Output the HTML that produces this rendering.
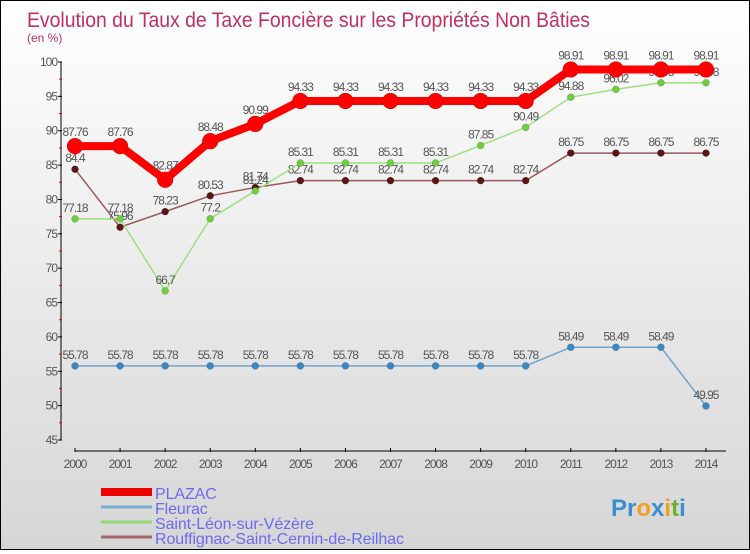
<!DOCTYPE html>
<html><head><meta charset="utf-8">
<style>
html,body{margin:0;padding:0}
body{width:750px;height:550px;overflow:hidden;font-family:"Liberation Sans",sans-serif}
#wrap{position:relative;width:748px;height:548px;border:1px solid #000;background:linear-gradient(#ffffff,#d6d6d6)}
</style></head><body>
<div id="wrap">
<svg id="chart" width="748" height="548"></svg>
</div>
<script>
const years=["2000","2001","2002","2003","2004","2005","2006","2007","2008","2009","2010","2011","2012","2013","2014"];
const plazac=[87.76,87.76,82.87,88.48,90.99,94.33,94.33,94.33,94.33,94.33,94.33,98.91,98.91,98.91,98.91];
const fleurac=[55.78,55.78,55.78,55.78,55.78,55.78,55.78,55.78,55.78,55.78,55.78,58.49,58.49,58.49,49.95];
const saintLeon=[77.18,77.18,66.7,77.2,81.24,85.31,85.31,85.31,85.31,87.85,90.49,94.88,96.02,96.98,96.98];
const rouffignac=[84.4,75.96,78.23,80.53,81.74,82.74,82.74,82.74,82.74,82.74,82.74,86.75,86.75,86.75,86.75];
const yTicks=[45,50,55,60,65,70,75,80,85,90,95,100];
const seriesNames=["PLAZAC","Fleurac","Saint-Léon-sur-Vézère","Rouffignac-Saint-Cernin-de-Reilhac"];

const NS="http://www.w3.org/2000/svg";
const svg=document.getElementById('chart');
function el(t,a,p){const e=document.createElementNS(NS,t);for(const k in a)e.setAttribute(k,a[k]);(p||svg).appendChild(e);return e;}
const X=i=>74+i*45.07;
const Y=v=>439-(v-45)*(378/55);
const fmt=v=>String(v);

let t=el('text',{x:26,y:26,'font-size':21,fill:'#c0305e',textLength:563,lengthAdjust:'spacingAndGlyphs'});t.textContent="Evolution du Taux de Taxe Foncière sur les Propriétés Non Bâties";

t=el('text',{x:26,y:41,'font-size':12,fill:'#c0305e'});t.textContent="(en %)";


let ax=el('line',{x1:60,y1:Y(100),x2:60,y2:Y(45),stroke:'#000','stroke-width':1});

yTicks.forEach((v,i)=>{
  el('line',{x1:57,x2:61,y1:Y(v),y2:Y(v),stroke:'#000'});
  if(i<yTicks.length-1) el('line',{x1:58,x2:61,y1:Y(v+2.5),y2:Y(v+2.5),stroke:'#e00'});
  const tx=el('text',{x:56,y:Y(v)+4,'font-size':12,'text-anchor':'end',fill:'#555','letter-spacing':'-1'});tx.textContent=v;
  
});
ax=el('line',{x1:74,y1:450,x2:725,y2:450,stroke:'#000'});

years.forEach((y,i)=>{
  el('line',{x1:X(i),x2:X(i),y1:447,y2:451,stroke:'#000'});
  const tx=el('text',{x:X(i),y:467,'font-size':12,'text-anchor':'middle',fill:'#555','letter-spacing':'-1'});tx.textContent=y;
  
});

function series(data,color,dot,w,r,name){
  const g=el('g',{});
  
  el('polyline',{points:data.map((v,i)=>X(i)+','+Y(v)).join(' '),fill:'none',stroke:color,'stroke-width':w,'stroke-linejoin':'round'},g);
  data.forEach((v,i)=>{
    const c=el('circle',{cx:X(i),cy:Y(v),r:r,fill:dot,stroke:'rgba(0,0,0,0.25)','stroke-width':0.5},g);
    
    const tx=el('text',{x:X(i),y:Y(v)-(r>5?10:7),'font-size':12,'text-anchor':'middle',fill:'#555','letter-spacing':'-1'},g);tx.textContent=fmt(v);
  });
}
series(fleurac,'#6fa4cc','#3a87c4',1.5,3.5,'fleurac-series');
series(rouffignac,'#9a5a5a','#5c1515',1.5,3.5,'rouffignac-series');
series(saintLeon,'#a0e080','#70cc40',1.5,3.5,'saint-leon-series');
series(plazac,'#ff0000','#ff0000',8,8,'plazac-series');

const lc=['#ee0000','#7aaed0','#90d870','#a06868'];
const lw=[8,3,3,3];
seriesNames.forEach((n,i)=>{
  const y=492+i*15;
  const g=el('g',{});
  
  el('line',{x1:100,x2:151,y1:y-1,y2:y-1,stroke:lc[i],'stroke-width':lw[i]},g);
  const tx=el('text',{x:154,y:y+6,'font-size':16,fill:'#6b6bf0','letter-spacing':'-0.1'},g);tx.textContent=n;
});
const lg=el('text',{x:610,y:515,'font-size':24,'font-weight':'bold',fill:'#3b8fd0'});

lg.innerHTML='Pr<tspan fill="#f0a020">o</tspan>x<tspan fill="#f0a020">i</tspan><tspan fill="#70b030">t</tspan><tspan fill="#3b8fd0">i</tspan>';
</script>
</body></html>
